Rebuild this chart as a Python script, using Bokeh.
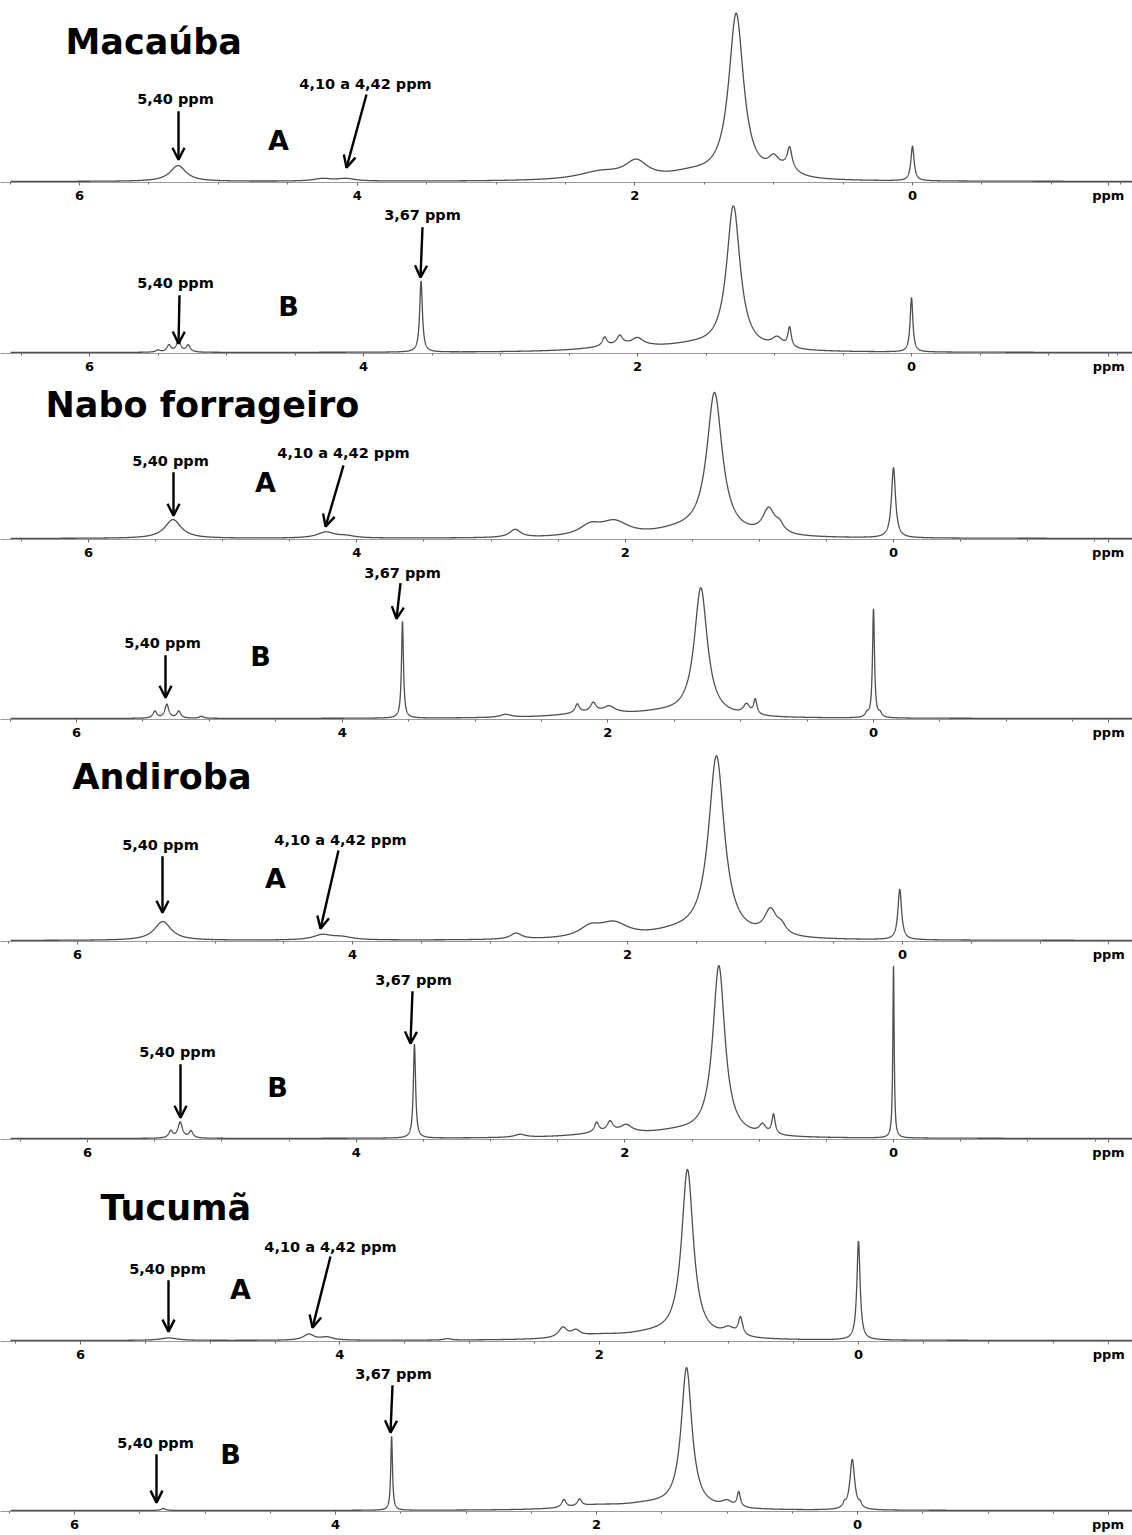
import numpy as np
from bokeh.plotting import figure
from bokeh.models import Range1d, FixedTicker, Label, Arrow, OpenHead
from bokeh.layouts import column
from bokeh.embed import file_html
from bokeh.resources import INLINE

# ---------------- data: peak lists ----------------
# chemical shift (ppm), intensity (relative, px of the original scan), half width (ppm)
macauba_A_ppm = [5.29, 4.25, 4.08, 2.25, 1.99, 1.60, 1.27, 1.00, 0.885, 0.90, 0.0]
macauba_A_int = [16, 2.5, 2.5, 8, 17, 6, 167, 14, 20, 8, 35]
macauba_A_hw = [0.07, 0.08, 0.08, 0.2, 0.1, 0.2, 0.065, 0.05, 0.02, 0.08, 0.014]

macauba_B_ppm = [5.42, 5.35, 5.28, 5.50, 3.58, 2.24, 2.13, 2.00, 2.10, 1.30, 1.60, 0.98, 0.89, 0.0]
macauba_B_int = [7, 12, 7, 2, 72, 9, 9, 7, 6, 146, 5, 10, 20, 55]
macauba_B_hw = [0.018, 0.018, 0.018, 0.02, 0.012, 0.02, 0.025, 0.05, 0.3, 0.06, 0.25, 0.05, 0.015, 0.012]

nabo_A_ppm = [5.37, 4.23, 4.08, 2.82, 2.26, 2.08, 1.334, 1.60, 0.93, 0.85, 0.0]
nabo_A_int = [19, 6, 2, 8, 10, 14, 144, 6, 25, 8, 71]
nabo_A_hw = [0.075, 0.08, 0.08, 0.05, 0.1, 0.13, 0.07, 0.25, 0.055, 0.04, 0.018]

nabo_B_ppm = [5.41, 5.32, 5.23, 5.06, 3.546, 2.77, 2.23, 2.11, 1.99, 2.10, 1.30, 1.60, 0.956, 0.89, 0.05, 0.0, -0.05]
nabo_B_int = [7, 14, 7, 2, 98, 3, 9, 9, 6, 5, 130, 4, 10, 15, 4, 110, 4]
nabo_B_hw = [0.018, 0.018, 0.018, 0.02, 0.009, 0.05, 0.02, 0.025, 0.05, 0.3, 0.06, 0.25, 0.03, 0.015, 0.015, 0.009, 0.015]

andiroba_A_ppm = [5.38, 4.22, 4.08, 2.81, 2.27, 2.10, 1.353, 1.65, 0.96, 0.88, 0.02]
andiroba_A_int = [19, 5, 3, 6, 10, 14, 183, 6, 25, 8, 51]
andiroba_A_hw = [0.075, 0.08, 0.1, 0.05, 0.1, 0.13, 0.07, 0.25, 0.055, 0.04, 0.016]

andiroba_B_ppm = [5.38, 5.31, 5.23, 3.566, 2.78, 2.21, 2.11, 1.99, 2.10, 1.30, 1.60, 0.975, 0.893, 0.0]
andiroba_B_int = [7, 16, 7, 95, 3, 10, 10, 7, 5, 172, 5, 9, 20, 174]
andiroba_B_hw = [0.018, 0.02, 0.018, 0.01, 0.05, 0.02, 0.025, 0.05, 0.3, 0.055, 0.25, 0.03, 0.015, 0.006]

tucuma_A_ppm = [5.32, 4.24, 4.10, 3.17, 2.28, 2.18, 2.00, 1.319, 1.60, 1.00, 0.91, 0.0]
tucuma_A_int = [2.5, 6, 3, 1.5, 10, 6, 4, 170, 5, 8, 18, 100]
tucuma_A_hw = [0.08, 0.05, 0.06, 0.03, 0.04, 0.04, 0.25, 0.055, 0.25, 0.06, 0.02, 0.015]

tucuma_B_ppm = [5.32, 3.57, 2.25, 2.13, 2.00, 1.31, 1.60, 1.00, 0.91, 0.10, 0.04, -0.02]
tucuma_B_int = [2, 75, 8, 7, 4, 142, 5, 6, 15, 4, 51, 4]
tucuma_B_hw = [0.02, 0.008, 0.02, 0.02, 0.25, 0.05, 0.25, 0.05, 0.015, 0.015, 0.022, 0.015]

titles = ["Macaúba", "", "Nabo forrageiro", "", "Andiroba", "", "Tucumã", ""]
letters = ["A", "B", "A", "B", "A", "B", "A", "B"]
tick_values = [6, 4, 2, 0]
unit_label = "ppm"

spectra = [
    (macauba_A_ppm, macauba_A_int, macauba_A_hw),
    (macauba_B_ppm, macauba_B_int, macauba_B_hw),
    (nabo_A_ppm, nabo_A_int, nabo_A_hw),
    (nabo_B_ppm, nabo_B_int, nabo_B_hw),
    (andiroba_A_ppm, andiroba_A_int, andiroba_A_hw),
    (andiroba_B_ppm, andiroba_B_int, andiroba_B_hw),
    (tucuma_A_ppm, tucuma_A_int, tucuma_A_hw),
    (tucuma_B_ppm, tucuma_B_int, tucuma_B_hw),
]

# ---------------- layout (page pixels) ----------------
# top, baseline, bottom, x of "6", x of "0"
geom = [
    (0, 183, 205, 79, 912),
    (205, 354, 376, 89, 911),
    (376, 540, 562, 88, 893),
    (562, 720, 742, 76, 873),
    (742, 942, 964, 77, 902),
    (964, 1140, 1162, 87, 893),
    (1162, 1342, 1364, 80, 858),
    (1364, 1512, 1534, 74, 857),
]
ann = [
    dict(title=(65, 42), letter=(278, 142), t540=(175, 100), a540=(178, 112, 178, 161),
         t2=("4,10 a 4,42 ppm", 365, 84), a2=(366, 95, 346, 169)),
    dict(title=None, letter=(288, 307), t540=(175, 284), a540=(179, 296, 178, 345),
         t2=("3,67 ppm", 422, 215), a2=(422, 227, 420, 278)),
    dict(title=(45, 405), letter=(265, 483), t540=(170, 462), a540=(173, 473, 173, 517),
         t2=("4,10 a 4,42 ppm", 343, 453), a2=(343, 466, 325, 528)),
    dict(title=None, letter=(260, 657), t540=(162, 644), a540=(165, 656, 165, 699),
         t2=("3,67 ppm", 402, 573), a2=(400, 583, 396, 619)),
    dict(title=(72, 777), letter=(275, 879), t540=(160, 846), a540=(162, 857, 162, 914),
         t2=("4,10 a 4,42 ppm", 340, 840), a2=(338, 851, 320, 930)),
    dict(title=None, letter=(277, 1088), t540=(177, 1053), a540=(180, 1065, 180, 1119),
         t2=("3,67 ppm", 413, 980), a2=(412, 991, 410, 1044)),
    dict(title=(100, 1208), letter=(240, 1290), t540=(167, 1270), a540=(168, 1281, 168, 1333),
         t2=("4,10 a 4,42 ppm", 330, 1247), a2=(330, 1257, 312, 1329)),
    dict(title=None, letter=(230, 1455), t540=(155, 1444), a540=(156, 1455, 156, 1504),
         t2=("3,67 ppm", 393, 1374), a2=(392, 1385, 390, 1433)),
]

PAGE_LEFT = 0
WIDTH = 1132
UNIT_X = 1108
FONT = "DejaVu Sans"

figs = []
for i, ((ppm, inten, hw), (top, base, bottom, x6, x0), a) in enumerate(zip(spectra, geom, ann)):
    def ppm_at(px, x6=x6, x0=x0):
        return 6.0 * (x0 - px) / (x0 - x6)

    def yv(py, base=base):
        return base - py

    h = bottom - top
    p = figure(width=WIDTH, height=h,
               x_range=Range1d(ppm_at(PAGE_LEFT), ppm_at(PAGE_LEFT + WIDTH)),
               y_range=Range1d(-1, base - top),
               output_backend="svg", toolbar_location=None, y_axis_location=None,
               min_border_left=0, min_border_right=0, min_border_top=0,
               min_border_bottom=bottom - base - 1)
    p.outline_line_color = None
    p.grid.visible = False
    p.background_fill_color = "white"
    p.border_fill_color = "white"

    xs = np.linspace(ppm_at(PAGE_LEFT + 10), ppm_at(PAGE_LEFT + WIDTH + 4), 9000)
    ys = np.zeros_like(xs)
    for c, hh, w in zip(ppm, inten, hw):
        ys += hh / (1.0 + ((xs - c) / w) ** 2)
    p.line(xs, ys, line_color="#4f4f4f", line_width=1.3)

    unit_pos = round(ppm_at(UNIT_X), 2)
    ax = p.xaxis[0]
    ax.ticker = FixedTicker(ticks=tick_values + [unit_pos],
                            minor_ticks=[v / 2 for v in range(-3, 14)])
    ax.major_label_overrides = {unit_pos: unit_label}
    ax.axis_line_color = "#9a9a9a"
    ax.axis_line_width = 1
    ax.major_tick_line_color = "#666666"
    ax.minor_tick_line_color = "#666666"
    ax.major_tick_in = 0
    ax.major_tick_out = 3
    ax.minor_tick_in = 0
    ax.minor_tick_out = 2
    ax.major_label_standoff = 2
    ax.major_label_text_font = FONT
    ax.major_label_text_font_style = "bold"
    ax.major_label_text_font_size = "13px"
    ax.major_label_text_color = "black"

    if a["title"] is not None:
        tx, ty = a["title"]
        p.add_layout(Label(x=ppm_at(tx), y=yv(ty), text=titles[i], text_font=FONT,
                           text_font_style="bold", text_font_size="35px",
                           text_align="left", text_baseline="middle", text_color="black"))
    lx, ly = a["letter"]
    p.add_layout(Label(x=ppm_at(lx), y=yv(ly), text=letters[i], text_font=FONT,
                       text_font_style="bold", text_font_size="27px",
                       text_align="center", text_baseline="middle", text_color="black"))
    sx, sy = a["t540"]
    p.add_layout(Label(x=ppm_at(sx), y=yv(sy), text="5,40 ppm", text_font=FONT,
                       text_font_style="bold", text_font_size="14.5px",
                       text_align="center", text_baseline="middle", text_color="black"))
    txt, t2x, t2y = a["t2"]
    p.add_layout(Label(x=ppm_at(t2x), y=yv(t2y), text=txt, text_font=FONT,
                       text_font_style="bold", text_font_size="14.5px",
                       text_align="center", text_baseline="middle", text_color="black"))
    for (ax0, ay0, ax1, ay1) in (a["a540"], a["a2"]):
        p.add_layout(Arrow(x_start=ppm_at(ax0), y_start=yv(ay0),
                           x_end=ppm_at(ax1), y_end=yv(ay1),
                           line_color="black", line_width=2.4,
                           end=OpenHead(size=12, line_width=2.4, line_color="black")))
    figs.append(p)

layout = column(*figs, spacing=0)
open("out.html", "w").write(file_html(layout, INLINE))
